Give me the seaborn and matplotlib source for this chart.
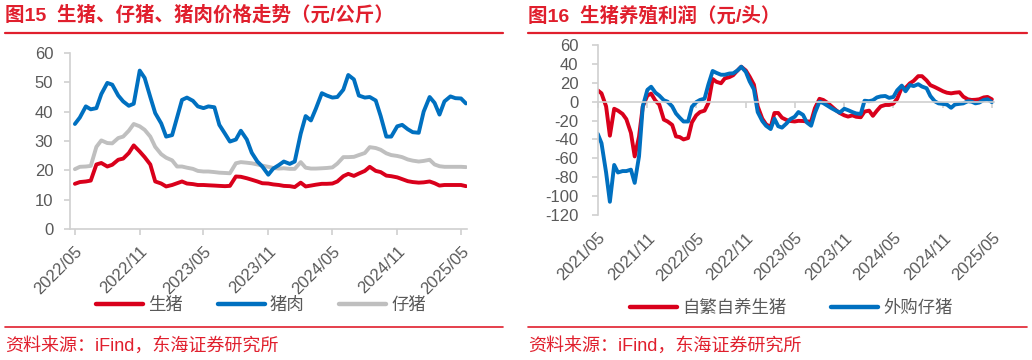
import pandas as pd
import matplotlib
matplotlib.use('Agg')
import matplotlib.pyplot as plt
import matplotlib.dates as mdates
from matplotlib.lines import Line2D
import seaborn as sns

# 图15 价格（元/公斤），半月一个点，自 2022/05 起
price_start = '2022-05-01'
hog = [15.4, 16.0, 16.2, 16.5, 22, 22.5, 21.3, 21.9, 23.6, 24,
       25.9, 28.5, 26.4, 24.5, 22, 16.2, 15.5, 14.5, 15, 15.6,
       16.2, 15.5, 15.3, 15, 15, 14.9, 14.8, 14.7, 14.6, 14.7,
       17.9, 17.8, 17.3, 16.8, 16.2, 15.6, 15.5, 15.2, 15, 14.7,
       14.6, 14.3, 15.8, 14.5, 14.8, 15.1, 15.4, 15.4, 15.5, 16.2,
       18, 18.8, 18.1, 18.9, 19.8, 21.2, 19.8, 19.4, 18.2, 18,
       17.6, 17, 16.3, 16, 15.8, 15.9, 16.2, 15.6, 14.8, 15,
       15, 15, 15, 14.6]
pork = [35.8, 38, 41.8, 40.8, 41.2, 46, 49.8, 49.2, 45.5, 43.5,
        42, 42.7, 54, 51.5, 45, 39.5, 36, 31.5, 32, 38,
        44, 44.8, 43.7, 41.8, 41.2, 41.8, 41.5, 35.5, 32.5, 29.8,
        30.5, 33.5, 30.5, 26, 23, 21.3, 18.5, 20.6, 21.8, 23,
        22.2, 23, 32.5, 38.5, 37, 41, 46.3, 45.5, 44.8, 45,
        47.5, 52.5, 51, 45.5, 44.8, 45, 43.8, 38.5, 31.5, 31.5,
        35, 35.5, 34, 33, 32.8, 40, 45, 43, 39, 43.5,
        45.2, 44.6, 44.5, 42.8]
piglet = [20.4, 21.2, 21.3, 21.5, 28, 30.2, 29.3, 29.2, 31, 31.5,
          33.5, 35.8, 35, 33.8, 31.5, 28, 25.5, 24.3, 23.4, 21.3,
          21.3, 20.9, 20.5, 19.8, 19.6, 19.6, 19.4, 19.2, 19.1, 19,
          22.4, 22.8, 22.6, 22.4, 22, 21.6, 21.2, 20.8, 20.6, 20.7,
          20.5, 20.5, 22.8, 20.9, 20.6, 20.6, 20.7, 20.8, 21, 22.3,
          24.5, 24.5, 24.6, 25.2, 25.9, 27.9, 27.6, 27, 25.8, 25.2,
          24.9, 24.5, 23.7, 23.3, 23, 23.2, 23.6, 22, 21.4, 21.2,
          21.2, 21.2, 21.2, 21.1]

# 图16 养殖利润（元/头），半月一个点，自 2021/05 起
profit_start = '2021-05-01'
self_bred = [12, 8.8, -5, -36, -7.5, -9.5, -13, -18.5, -33, -58,
             -37, -5, 6.5, 8.5, 1, -3, -19, -21, -24.6, -36.8,
             -37.5, -40, -38.5, -22, -14.5, -11, -9.5, -1.5, 24, 21,
             19.5, 24.6, 26, 28, 33, 37, 33, 26.5, 18, -5,
             -18, -24, -27, -12, -12, -17, -19.4, -20.5, -21, -20.3,
             -20.5, -21, -21, -7, 3, 1.8, -1.5, -5, -9, -12,
             -14.5, -15.8, -14.5, -16, -16.5, -10.5, -9.5, -15, -9.5, -5,
             -3.5, -3.5, -2, 3, 15, 14.5, 19.4, 22, 27, 27,
             22.5, 17.5, 15.5, 13.5, 11, 9.5, 8.8, 9.5, 10, 5.3,
             2.5, 1.8, 2, 2.5, 4.5, 5, 2.5]
bought = [-34, -44, -75, -106, -67, -75, -73.5, -73.5, -72, -86,
          -58, -5, 12.5, 15.8, 9.5, 6.5, 1.5, 0, -5, -12.5,
          -17, -21, -21, -5.5, -0.5, 1.8, 3.2, 18, 32.5, 30.5,
          28.5, 28.5, 29.8, 30, 33, 37, 31.5, 21.5, 13, -11,
          -20.5, -25.5, -29, -18, -26, -27.5, -23, -18.5, -16, -11,
          -14, -22, -25.5, -12, 0, -1.5, -4.5, -7, -9.5, -11.6,
          -7.5, -9, -11, -12.5, -13, 1, 0.5, 1.5, 4.5, 5.6,
          6, 4, 5, 12, 17, 11, 17.6, 16.5, 18.5, 16,
          14.2, 6, 0.5, -1.8, -2.4, -3, -6.5, -3, -2.3, -1.8,
          0.5, 0, -1.8, -1, 1.8, 2.5, -0.5]

RED = '#d9001b'
BLUE = '#0070c0'
GREY = '#bfbfbf'
TITLE_RED = '#e01f2d'
AXIS_GREY = '#d0d0d0'
TEXT_GREY = '#595959'

sns.set_theme(style='white')
plt.rcParams['font.family'] = ['Liberation Sans', 'Noto Sans CJK SC', 'DejaVu Sans']
plt.rcParams['axes.unicode_minus'] = False

fig = plt.figure(figsize=(10.32, 3.6), dpi=100)
ax1 = fig.add_axes([0.0678, 0.3639, 0.3847, 0.4889])
ax2 = fig.add_axes([0.5792, 0.4028, 0.3840, 0.4722])

# ---- 左图：价格走势
df1 = pd.DataFrame({'date': pd.date_range(price_start, periods=len(hog), freq='SMS'),
                    '生猪': hog, '猪肉': pork, '仔猪': piglet})
df1 = df1.melt('date', var_name='品种', value_name='价格')
pal1 = {'生猪': RED, '猪肉': BLUE, '仔猪': GREY}
sns.lineplot(data=df1, x='date', y='价格', hue='品种', hue_order=['仔猪', '生猪', '猪肉'],
             palette=pal1, linewidth=2.8, legend=False, ax=ax1)
ax1.set_xlim(pd.Timestamp('2022-04-17'), pd.Timestamp('2025-05-18'))
ax1.set_ylim(0, 60)
ax1.set_yticks(range(0, 61, 10))

# ---- 右图：养殖利润
df2 = pd.DataFrame({'date': pd.date_range(profit_start, periods=len(self_bred), freq='SMS'),
                    '自繁自养生猪': self_bred, '外购仔猪': bought})
df2 = df2.melt('date', var_name='模式', value_name='利润')
pal2 = {'自繁自养生猪': RED, '外购仔猪': BLUE}
sns.lineplot(data=df2, x='date', y='利润', hue='模式', hue_order=['自繁自养生猪', '外购仔猪'],
             palette=pal2, linewidth=2.8, legend=False, ax=ax2)
ax2.set_xlim(pd.Timestamp('2021-05-01'), pd.Timestamp('2025-05-09'))
ax2.set_ylim(-120, 60)
ax2.set_yticks(range(-120, 61, 20))

for ax in (ax1, ax2):
    ax.set_xlabel('')
    ax.set_ylabel('')
    ax.xaxis.set_major_locator(mdates.MonthLocator(bymonth=[5, 11]))
    ax.xaxis.set_major_formatter(mdates.DateFormatter('%Y/%m'))
    for s in ax.spines.values():
        s.set_color(AXIS_GREY)
        s.set_linewidth(1.2)
    ax.spines['right'].set_visible(False)
    ax.tick_params(axis='both', colors=AXIS_GREY, labelcolor=TEXT_GREY,
                   labelsize=12, length=4, width=1.2)

ax1.spines['top'].set_visible(False)
ax1.tick_params(axis='x', bottom=True, pad=6.5, labelrotation=45)
ax1.tick_params(axis='y', left=True, pad=8)

# 右图零轴：用上边框放在 0 处，刻度朝下，标签放在底部
ax2.spines['bottom'].set_visible(False)
ax2.spines['top'].set_position(('data', 0))
ax2.tick_params(axis='x', top=True, bottom=False, labeltop=False, labelbottom=True,
                direction='in', pad=11, labelrotation=45)
ax2.tick_params(axis='y', left=True, pad=10)

for ax in (ax1, ax2):
    for lab in ax.get_xticklabels():
        lab.set_horizontalalignment('right')
        lab.set_rotation_mode('anchor')

# ---- 图例
def handles(pal, names):
    return [Line2D([0], [0], color=pal[n], lw=3.2, solid_capstyle='round') for n in names]

leg_kw = dict(ncol=3, frameon=False, fontsize=12.5, handlelength=2.7, handletextpad=0.3,
              labelcolor=TEXT_GREY, loc='center')
fig.legend(handles(pal1, ['生猪', '猪肉', '仔猪']), ['生猪', '猪肉', '仔猪'],
           bbox_to_anchor=(0.253, 0.152), columnspacing=2.0, **leg_kw)
fig.legend(handles(pal2, ['自繁自养生猪', '外购仔猪']), ['自繁自养生猪', '外购仔猪'],
           bbox_to_anchor=(0.767, 0.144), columnspacing=2.6, **leg_kw)

# ---- 标题、分隔线与来源
for x0, x1, title in [(0.0048, 0.4874, '图15  生猪、仔猪、猪肉价格走势（元/公斤）'),
                      (0.5116, 0.9952, '图16  生猪养殖利润（元/头）')]:
    fig.text(x0, 0.957, title, color=TITLE_RED, fontsize=14, fontweight='bold', va='center')
    fig.add_artist(Line2D([x0, x1], [0.9097, 0.9097], color=TITLE_RED, lw=1.6))
    fig.add_artist(Line2D([x0, x1], [0.0917, 0.0917], color=TITLE_RED, lw=1.2))
    fig.text(x0, 0.039, '资料来源：iFind，东海证券研究所', color=TITLE_RED, fontsize=13, va='center')

fig.savefig('out.png', dpi=100)
